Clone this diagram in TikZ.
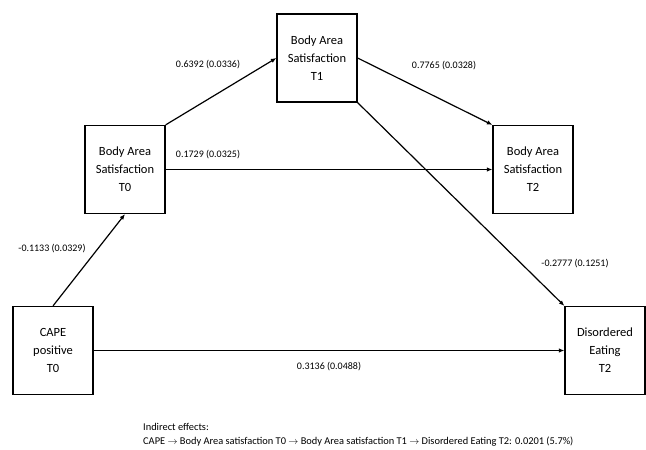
\documentclass[tikz,border=0pt]{standalone}
\usepackage{fontspec}
\setmainfont{Carlito}
\usetikzlibrary{arrows.meta}
\tikzset{
  box/.style={draw, line width=1.2pt, minimum width=80pt, minimum height=88pt, inner sep=0pt, align=center, font=\fontsize{12.5}{18}\selectfont},
  conn/.style={line width=1.2pt, -{Latex[length=5.5pt,width=4.5pt]}},
  lab/.style={font=\fontsize{10}{12}\selectfont, inner sep=0pt},
}
\begin{document}
\begin{tikzpicture}[x=1pt,y=-1pt]
\useasboundingbox (0,0) rectangle (646,450);
\node[box] (cape) at (53,350.5) {CAPE\\positive\\T0};
\node[box] (t0) at (125,169.5) {Body Area\\Satisfaction\\T0};
\node[box] (t1) at (317,58) {Body Area\\Satisfaction\\T1};
\node[box] (t2) at (533,169.5) {Body Area\\Satisfaction\\T2};
\node[box] (de) at (605,350.5) {Disordered\\Eating\\T2};

\draw[conn] (cape.north) -- (t0.south);
\draw[conn] (t0.north east) -- (t1.west);
\draw[conn] (t0.east) -- (t2.west);
\draw[conn] (t1.east) -- (t2.north west);
\draw[conn] (t1.south east) -- (de.north west);
\draw[conn] (cape.east) -- (de.west);

\node[lab] (l1) at (52,249) {-0.1133 (0.0329)};
\node[lab] (l2) at (208,65) {0.6392 (0.0336)};
\node[lab] (l3) at (208,155) {0.1729 (0.0325)};
\node[lab] (l4) at (444,66) {0.7765 (0.0328)};
\node[lab] (l5) at (575,264) {-0.2777 (0.1251)};
\node[lab] (l6) at (329,367) {0.3136 (0.0488)};

\node[lab, font=\fontsize{10.4}{12.5}\selectfont, anchor=west, align=left] (ind) at (143,435) {Indirect effects:\\[1pt]CAPE $\rightarrow$ Body Area satisfaction T0 $\rightarrow$ Body Area satisfaction T1 $\rightarrow$ Disordered Eating T2: 0.0201 (5.7\%)};
\end{tikzpicture}
\end{document}
